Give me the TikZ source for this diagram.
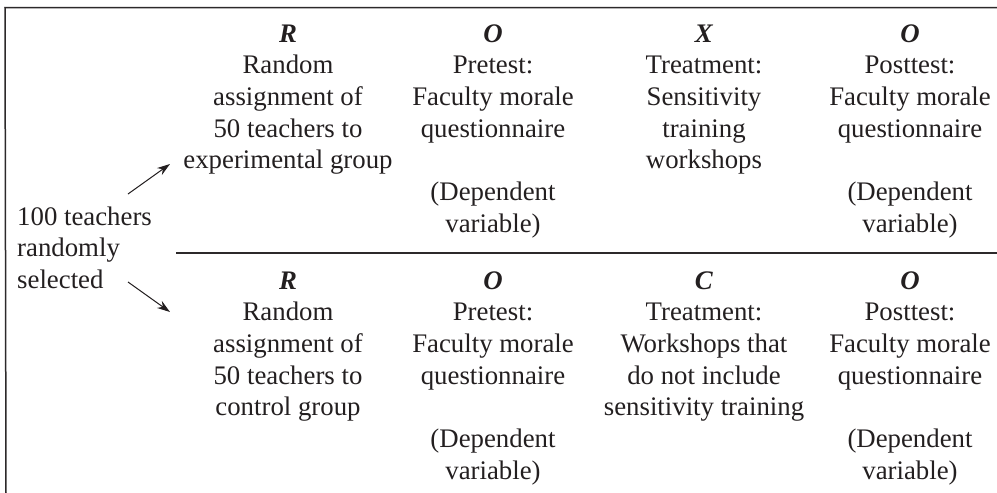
\documentclass[tikz,border=0pt]{standalone}
\usepackage{fontspec}
\setmainfont{Liberation Serif}
\usetikzlibrary{arrows.meta}
\definecolor{ink}{HTML}{231F20}
\begin{document}
\begin{tikzpicture}[x=1pt,y=-1pt,
  cell/.style={anchor=base,align=center,inner sep=0pt,text=ink,
    font=\fontsize{26.8}{31.7}\selectfont},
  lefttext/.style={anchor=base west,align=left,inner sep=0pt,text=ink,
    font=\fontsize{26.8}{31.5}\selectfont},
  rule/.style={draw=ink!90!gray,line width=1.5pt},
  arr/.style={draw=ink,line width=1pt,-{Stealth[length=13pt,width=8.5pt]}}]
\useasboundingbox (0,0) rectangle (997,493);
% frame
\coordinate (tl) at (5,7.5);
\coordinate (tr) at (997,7.5);
\coordinate (bl) at (6,493);
\coordinate (ml) at (176,253);
\coordinate (mr) at (997,253);
\draw[rule] (tr) -- (tl) -- (bl);
\draw[rule,line width=1.3pt] (ml) -- (mr);
% top row (anchor = baseline of the last line)
\node[cell] (r1) at (288,168.8) {\textbf{\textit{R}}\\Random\\assignment of\\50 teachers to\\experimental group};
\node[cell] (o1) at (493,232.2) {\textbf{\textit{O}}\\Pretest:\\Faculty morale\\questionnaire\\[31.7pt](Dependent\\variable)};
\node[cell] (x1) at (704,168.8) {\textbf{\textit{X}}\\Treatment:\\Sensitivity\\training\\workshops};
\node[cell] (p1) at (910,232.2) {\textbf{\textit{O}}\\Posttest:\\Faculty morale\\questionnaire\\[31.7pt](Dependent\\variable)};
% bottom row
\node[cell] (r2) at (288,415.8) {\textbf{\textit{R}}\\Random\\assignment of\\50 teachers to\\control group};
\node[cell] (o2) at (493,479.2) {\textbf{\textit{O}}\\Pretest:\\Faculty morale\\questionnaire\\[31.7pt](Dependent\\variable)};
\node[cell] (c2) at (704,415.8) {\textbf{\textit{C}}\\Treatment:\\Workshops that\\do not include\\sensitivity training};
\node[cell] (p2) at (910,479.2) {\textbf{\textit{O}}\\Posttest:\\Faculty morale\\questionnaire\\[31.7pt](Dependent\\variable)};
% left label
\node[lefttext] (src) at (17,288) {100 teachers\\randomly\\selected};
% arrows
\coordinate (a1s) at (128,194);
\coordinate (a1e) at (170,164);
\coordinate (a2s) at (128,282);
\coordinate (a2e) at (170,312);
\draw[arr] (a1s) -- (a1e);
\draw[arr] (a2s) -- (a2e);
\end{tikzpicture}
\end{document}
